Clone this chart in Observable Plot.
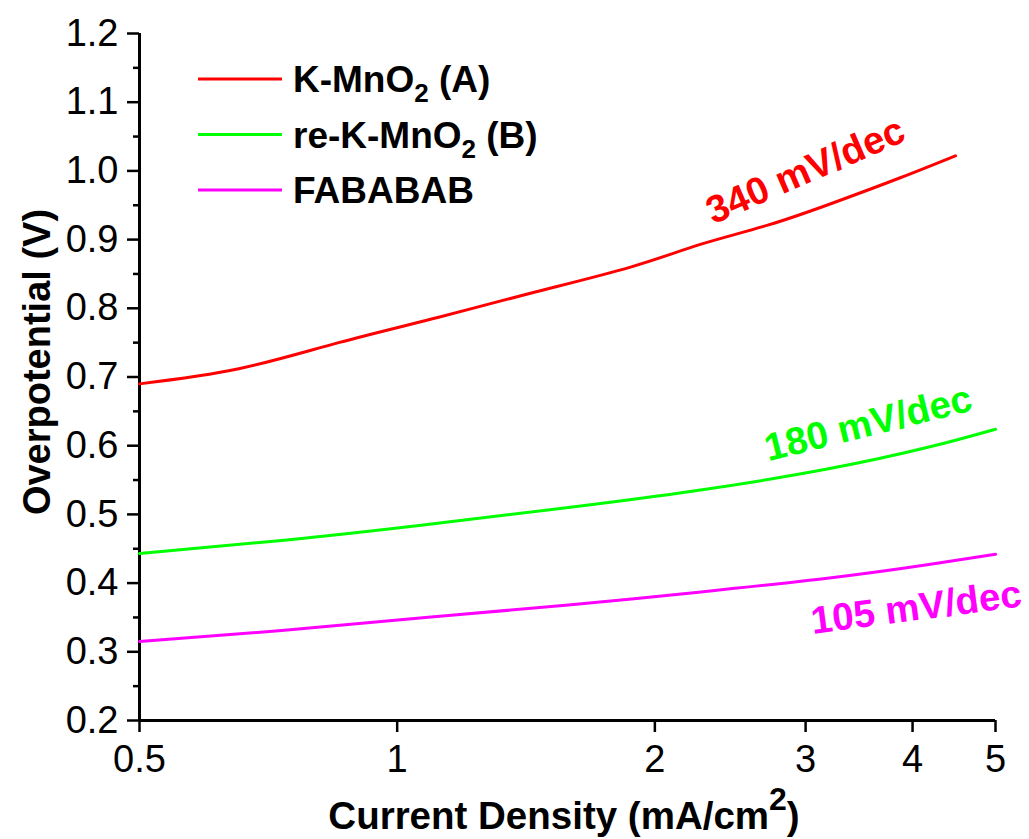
<!DOCTYPE html>
<html><head><meta charset="utf-8">
<script src="https://cdn.jsdelivr.net/npm/d3@7"></script>
<script src="https://cdn.jsdelivr.net/npm/@observablehq/plot@0.6"></script>
<style>
body{margin:0;background:#fff;}
#wrap{position:relative;width:1029px;height:839px;}
</style></head><body><div id="wrap"></div>
<script>
// ---- data ----
const seriesNames = ["K-MnO2 (A)", "re-K-MnO2 (B)", "FABABAB"];
const seriesColors = ["#ff0000", "#00ff00", "#ff00ff"];

const xA = [0.5, 0.653, 0.854, 1.118, 1.431, 1.873, 2.26, 2.71, 3.24, 3.87, 4.49];
const yA = [0.690, 0.712, 0.750, 0.787, 0.822, 0.860, 0.893, 0.921, 0.954, 0.990, 1.022];

const xB = [0.5, 0.733, 1.079, 1.585, 2.22, 3.18, 4.18, 5];
const yB = [0.443, 0.462, 0.485, 0.510, 0.534, 0.566, 0.598, 0.624];

const xC = [0.5, 0.733, 1.079, 1.585, 2.22, 3.18, 4.18, 5];
const yC = [0.315, 0.331, 0.350, 0.368, 0.386, 0.407, 0.427, 0.442];

const slopeLabels = ["340 mV/dec", "180 mV/dec", "105 mV/dec"];
const slopeX = [3.0, 3.55, 4.04];
const slopeY = [1.0, 0.632, 0.364];
const slopeAngle = [-23.5, -14, -7.5];

const xTicks = [0.5, 1, 2, 3, 4, 5];
const yTicks = [0.2, 0.3, 0.4, 0.5, 0.6, 0.7, 0.8, 0.9, 1.0, 1.1, 1.2];
const yMinor = [0.25, 0.35, 0.45, 0.55, 0.65, 0.75, 0.85, 0.95, 1.05, 1.15];

const xLabel = "Current Density (mA/cm";
const yLabel = "Overpotential (V)";

// ---- tables ----
const seriesX = [xA, xB, xC];
const seriesY = [yA, yB, yC];
const table = seriesNames.flatMap((s, i) => seriesX[i].map((x, j) => ({series: s, x, y: seriesY[i][j]})));
const annots = slopeLabels.map((t, i) => ({text: t, series: seriesNames[i], x: slopeX[i], y: slopeY[i], angle: slopeAngle[i]}));

const FONT = 'Arial, "Liberation Sans", sans-serif';

const chart = Plot.plot({
  width: 1029, height: 839,
  marginLeft: 139, marginRight: 34, marginTop: 33, marginBottom: 119,
  style: {fontFamily: FONT, fontSize: "38px", color: "#000", background: "#fff", overflow: "visible"},
  x: {type: "log", domain: [0.5, 5]},
  y: {domain: [0.2, 1.2]},
  color: {domain: seriesNames, range: seriesColors},
  marks: [
    Plot.axisY(yTicks, {tickSize: 12, tickPadding: 9, tickFormat: d => d.toFixed(1), strokeWidth: 2.5, label: null}),
    Plot.axisY(yMinor, {tickSize: 6, tickFormat: () => "", strokeWidth: 2.5, label: null}),
    Plot.axisX(xTicks, {tickSize: 12, tickPadding: 13, tickFormat: d => String(d), strokeWidth: 2.5, label: null}),
    Plot.ruleX([0.5], {strokeWidth: 3}),
    Plot.ruleY([0.2], {strokeWidth: 3}),
    Plot.line(table, {x: "x", y: "y", z: "series", stroke: "series", strokeWidth: 3, curve: "natural"}),
    Plot.text(annots, {x: "x", y: "y", text: "text", rotate: "angle", fill: "series", fontSize: 38.5, fontWeight: "bold"})
  ]
});

document.getElementById("wrap").appendChild(chart);

// ---- axis titles & legend ----
const svg = d3.select(chart);
const xt = svg.append("text").attr("x", 564).attr("y", 829).attr("text-anchor", "middle")
  .attr("font-family", FONT).attr("font-weight", "bold").attr("font-size", 38.5).attr("fill", "#000");
xt.append("tspan").text(xLabel);
xt.append("tspan").attr("dy", -19).attr("font-size", 32).text("2");
xt.append("tspan").attr("dy", 19).text(")");

svg.append("text").attr("transform", "translate(50,362) rotate(-90)").attr("text-anchor", "middle")
  .attr("font-family", FONT).attr("font-weight", "bold").attr("font-size", 38).attr("fill", "#000")
  .text(yLabel);

const lg = svg.append("g");
seriesNames.forEach((name, i) => {
  const cy = 79 + 55.5 * i;
  lg.append("line").attr("x1", 198).attr("x2", 282).attr("y1", cy).attr("y2", cy)
    .attr("stroke", seriesColors[i]).attr("stroke-width", 3);
  const t = lg.append("text").attr("x", 293).attr("y", cy + 13).attr("text-anchor", "start")
    .attr("font-family", FONT).attr("font-weight", "bold").attr("font-size", 37).attr("fill", "#000");
  const m = name.match(/^(.*O)2(.*)$/);
  if (m) {
    t.append("tspan").text(m[1]);
    t.append("tspan").attr("dy", 10).attr("font-size", 26).text("2");
    t.append("tspan").attr("dy", -10).text(m[2]);
  } else {
    t.text(name);
  }
});
</script>
</body></html>
